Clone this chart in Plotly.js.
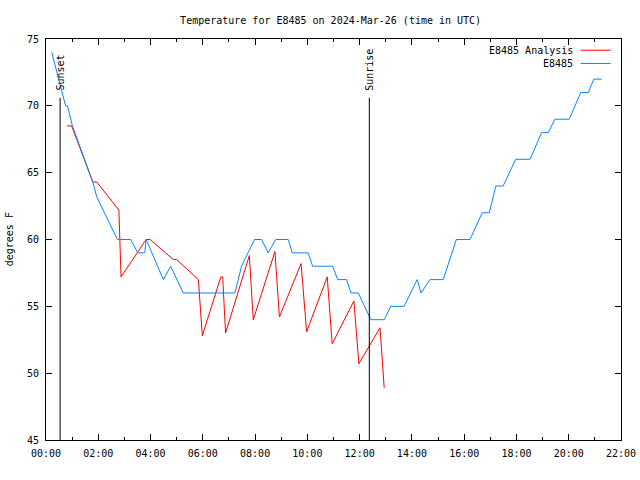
<!DOCTYPE html>
<html>
<head>
<meta charset="utf-8">
<script src="https://cdn.plot.ly/plotly-3.0.1.min.js"></script>
<style>html,body{margin:0;padding:0;background:#fff;}#chart{width:640px;height:480px;}</style>
</head>
<body>
<div id="chart"></div>
<script>
// ---- data (hours since 00:00 UTC, degrees F) ----
const blueHours = [0.22, 0.75, 0.82, 1.01, 1.79, 1.94, 2.73, 3.24, 3.51, 3.78,
  3.83, 4.49, 4.77, 5.25, 7.23, 7.48, 7.73, 7.98, 8.25, 8.5,
  8.79, 9.27, 9.42, 10.03, 10.2, 10.97, 11.16, 11.5, 11.67, 11.95,
  12.43, 12.94, 13.19, 13.7, 14.2, 14.35, 14.69, 15.2, 15.7, 16.22,
  16.69, 16.96, 17.21, 17.49, 17.97, 18.52, 18.96, 19.22, 19.47, 20.02,
  20.46, 20.75, 20.96, 21.26];
const blueTemps = [74, 70, 70, 68.5, 64.3, 63.2, 60, 60, 59, 59,
  60, 57, 58, 56, 56, 58, 59, 60, 60, 59,
  60, 60, 59, 59, 58, 58, 57, 57, 56, 56,
  54, 54, 55, 55, 57, 56, 57, 57, 60, 60,
  62, 62, 64, 64, 66, 66, 68, 68, 69, 69,
  71, 71, 72, 72];
const redHours = [0.81, 0.98, 1.79, 1.94, 2.79, 2.87, 3.83, 3.98, 4.87, 5.0,
  5.83, 5.98, 6.69, 6.76, 6.87, 7.78, 7.93, 8.76, 8.93, 9.76,
  9.97, 10.76, 10.95, 11.78, 11.97, 12.78, 12.94];
const redTemps = [68.5, 68.5, 64.3, 64.3, 62.2, 57.2, 60, 60, 58.5, 58.5,
  57.0, 52.8, 57.2, 57.2, 53.0, 58.8, 54.0, 59.1, 54.2, 58.2,
  53.1, 57.2, 52.2, 55.4, 50.7, 53.4, 48.9];
const tickHours = [0, 2, 4, 6, 8, 10, 12, 14, 16, 18, 20, 22];
const tickLabels = ["00:00", "02:00", "04:00", "06:00", "08:00", "10:00", "12:00", "14:00", "16:00", "18:00", "20:00", "22:00"];
const sunEvents = ["Sunset", "Sunrise"];
const sunHours = [0.54, 12.37];
const sunLineTop = 70.6;
const seriesNames = ["E8485 Analysis", "E8485"];
const seriesColors = ["#ff0000", "#0a84ff"];

const FONT = "DejaVu Sans Mono, monospace";

const traces = [
  {x: redHours, y: redTemps, name: seriesNames[0], mode: "lines",
   line: {color: seriesColors[0], width: 1}, showlegend: false},
  {x: blueHours, y: blueTemps, name: seriesNames[1], mode: "lines",
   line: {color: seriesColors[1], width: 1}, showlegend: false}
];

const shapes = [];
const annotations = [];
sunHours.forEach((h, i) => {
  shapes.push({type: "line", xref: "x", yref: "y", x0: h, x1: h, y0: 45, y1: sunLineTop,
    line: {color: "#000", width: 1}});
  annotations.push({xref: "x", yref: "y", x: h, y: sunLineTop + 0.4, text: sunEvents[i],
    textangle: -90, showarrow: false, xanchor: "center", yanchor: "bottom",
    font: {family: FONT, size: 10, color: "#000"}});
});
// legend (gnuplot style: text right-aligned, sample on the right)
const legY = [0.972, 0.939];
seriesNames.forEach((n, i) => {
  annotations.push({xref: "paper", yref: "paper", x: 0.920, y: legY[i], text: n,
    showarrow: false, xanchor: "right", yanchor: "middle",
    font: {family: FONT, size: 10, color: "#000"}});
  shapes.push({type: "line", xref: "paper", yref: "paper", x0: 0.930, x1: 0.982,
    y0: legY[i], y1: legY[i], line: {color: seriesColors[i], width: 1}});
});
annotations.push({xref: "paper", yref: "paper", x: -0.063, y: 0.5, text: "degrees F",
  textangle: -90, showarrow: false, xanchor: "center", yanchor: "middle",
  font: {family: FONT, size: 10, color: "#000"}});

const layout = {
  width: 640, height: 480,
  margin: {l: 46, r: 19, t: 39, b: 40, pad: 0},
  paper_bgcolor: "#fff", plot_bgcolor: "#fff",
  title: {text: "Temperature for E8485 on 2024-Mar-26 (time in UTC)",
    font: {family: FONT, size: 10, color: "#000"},
    x: 0.495, xref: "paper", xanchor: "center", y: 0.958, yref: "container", yanchor: "middle"},
  showlegend: false,
  xaxis: {range: [0, 22], tickvals: tickHours, ticktext: tickLabels,
    ticks: "inside", ticklen: 6, tickwidth: 1, tickcolor: "#000",
    minor: {dtick: 1, ticks: "inside", ticklen: 3, tickcolor: "#000", tickwidth: 1},
    showline: true, linecolor: "#000", linewidth: 1, mirror: "ticks",
    showgrid: false, zeroline: false, ticklabelstandoff: 4,
    tickfont: {family: FONT, size: 10, color: "#000"}},
  yaxis: {range: [45, 75], tickvals: [45, 50, 55, 60, 65, 70, 75],
    ticks: "inside", ticklen: 6, tickwidth: 1, tickcolor: "#000",
    showline: true, linecolor: "#000", linewidth: 1, mirror: "ticks",
    showgrid: false, zeroline: false, ticklabelstandoff: 4,
    tickfont: {family: FONT, size: 10, color: "#000"}},
  shapes: shapes,
  annotations: annotations
};

Plotly.newPlot("chart", traces, layout, {displayModeBar: false, staticPlot: true});
</script>
</body>
</html>
